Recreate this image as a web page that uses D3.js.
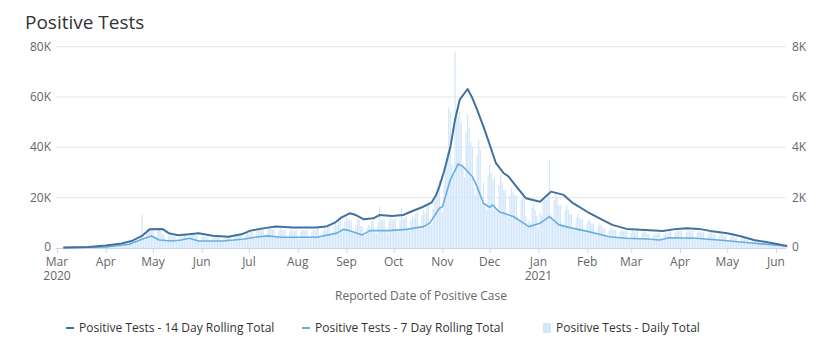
<!DOCTYPE html>
<html>
<head>
<meta charset="utf-8">
<script src="https://cdn.jsdelivr.net/npm/d3@7"></script>
<style>
  body { margin: 0; background: #fff; }
  svg { font-family: 'Open Sans', sans-serif; }
</style>
</head>
<body>
<svg id="chart" width="829" height="361"></svg>
<script>
// 14 day rolling total (left axis)
const rolling14 = [
  ['2020-03-05', 200], ['2020-03-21', 400], ['2020-04-01', 1000], ['2020-04-11', 1800],
  ['2020-04-18', 2900], ['2020-04-24', 4800], ['2020-04-29', 7500], ['2020-05-07', 7600],
  ['2020-05-11', 5900], ['2020-05-17', 5100], ['2020-05-24', 5500], ['2020-05-30', 5900],
  ['2020-06-08', 4900], ['2020-06-18', 4500], ['2020-06-27', 5600], ['2020-07-02', 6900],
  ['2020-07-10', 7800], ['2020-07-18', 8500], ['2020-07-29', 8100], ['2020-08-13', 8100],
  ['2020-08-19', 8500], ['2020-08-25', 10200], ['2020-08-29', 12200], ['2020-09-03', 13800],
  ['2020-09-07', 13100], ['2020-09-12', 11400], ['2020-09-18', 11800], ['2020-09-22', 13100],
  ['2020-09-30', 12700], ['2020-10-07', 13100], ['2020-10-13', 14700], ['2020-10-19', 16200],
  ['2020-10-25', 18000], ['2020-10-28', 21100], ['2020-10-30', 24400], ['2020-11-02', 30400],
  ['2020-11-06', 40000], ['2020-11-09', 51000], ['2020-11-12', 59000], ['2020-11-17', 63200],
  ['2020-11-20', 59600], ['2020-11-23', 55000], ['2020-11-27', 48300], ['2020-11-30', 43000],
  ['2020-12-05', 33700], ['2020-12-10', 29700], ['2020-12-13', 28400], ['2020-12-18', 24400],
  ['2020-12-24', 19800], ['2021-01-02', 18400], ['2021-01-09', 22400], ['2021-01-17', 21100],
  ['2021-01-23', 17800], ['2021-02-01', 14400], ['2021-02-11', 11100], ['2021-02-17', 9200],
  ['2021-02-26', 7600], ['2021-03-10', 7200], ['2021-03-21', 6800], ['2021-03-30', 7600],
  ['2021-04-05', 7800], ['2021-04-13', 7600], ['2021-04-20', 6800], ['2021-05-01', 5900],
  ['2021-05-09', 4800], ['2021-05-18', 3200], ['2021-05-30', 1900], ['2021-06-08', 800]
];

// 7 day rolling total (left axis)
const rolling7 = [
  ['2020-03-05', 100], ['2020-04-01', 400], ['2020-04-16', 1500], ['2020-04-24', 3500],
  ['2020-04-30', 4800], ['2020-05-05', 3200], ['2020-05-13', 2800], ['2020-05-19', 3200],
  ['2020-05-24', 3900], ['2020-05-30', 2800], ['2020-06-14', 2800], ['2020-06-27', 3500],
  ['2020-07-01', 3900], ['2020-07-05', 4300], ['2020-07-12', 4800], ['2020-07-22', 4300],
  ['2020-08-13', 4300], ['2020-08-26', 5900], ['2020-08-30', 7400], ['2020-09-03', 6900],
  ['2020-09-11', 5200], ['2020-09-16', 6900], ['2020-09-28', 6900], ['2020-10-09', 7400],
  ['2020-10-20', 8500], ['2020-10-24', 10000], ['2020-10-30', 15800], ['2020-11-01', 16400],
  ['2020-11-06', 27100], ['2020-11-11', 33400], ['2020-11-14', 32400], ['2020-11-20', 28400],
  ['2020-11-23', 24400], ['2020-11-27', 17800], ['2020-12-01', 16200], ['2020-12-03', 17100],
  ['2020-12-07', 14400], ['2020-12-16', 12500], ['2020-12-26', 8500], ['2021-01-02', 9800],
  ['2021-01-08', 12500], ['2021-01-14', 9200], ['2021-01-23', 7800], ['2021-02-02', 6500],
  ['2021-02-15', 4500], ['2021-02-26', 3900], ['2021-03-11', 3600], ['2021-03-19', 3200],
  ['2021-03-25', 4100], ['2021-04-11', 3900], ['2021-05-01', 2900], ['2021-05-18', 1900],
  ['2021-05-31', 1200], ['2021-06-08', 800]
];

// daily totals (right axis), one per day from 2020-03-05, a row per week
const dailyStart = '2020-03-05';
const daily = [
  0, 2, 3, 5, 8, 10, 14,
  18, 22, 15, 14, 30, 38, 42,
  48, 55, 35, 30, 60, 70, 66,
  85, 95, 60, 55, 90, 105, 98,
  110, 120, 75, 68, 115, 130, 125,
  140, 150, 95, 90, 150, 170, 160,
  210, 230, 150, 140, 250, 280, 300,
  520, 1320, 380, 330, 560, 640, 700,
  760, 820, 480, 420, 700, 790, 680,
  560, 520, 330, 290, 470, 520, 480,
  470, 450, 300, 260, 420, 460, 440,
  560, 590, 380, 330, 540, 600, 560,
  500, 480, 310, 280, 440, 490, 460,
  450, 460, 290, 250, 420, 470, 440,
  440, 450, 300, 260, 410, 460, 430,
  470, 480, 300, 270, 440, 490, 470,
  560, 580, 360, 320, 530, 600, 560,
  700, 640, 430, 370, 660, 760, 720,
  780, 800, 480, 420, 720, 820, 760,
  740, 760, 460, 400, 690, 790, 730,
  700, 720, 430, 380, 660, 750, 690,
  690, 710, 430, 370, 650, 740, 690,
  700, 710, 420, 370, 650, 730, 700,
  740, 760, 460, 400, 690, 790, 730,
  900, 950, 560, 490, 850, 980, 920,
  1200, 1250, 740, 650, 1100, 1300, 1180,
  1080, 1100, 650, 560, 900, 1150, 1100,
  860, 880, 520, 460, 800, 920, 860,
  1080, 1120, 660, 580, 1000, 1650, 1100,
  1100, 1150, 680, 600, 1050, 1200, 1120,
  1120, 1180, 700, 620, 1080, 1600, 1150,
  1200, 1250, 730, 650, 1130, 1300, 1200,
  1380, 1420, 840, 740, 1300, 1500, 1380,
  1650, 1700, 1000, 900, 1550, 1850, 2000,
  2500, 2700, 1600, 1400, 2500, 3200, 3800,
  5600, 5400, 3300, 2900, 7800, 5500, 5200,
  5400, 5000, 3200, 2800, 4600, 5300, 4800,
  4200, 4000, 2400, 2100, 3700, 4300, 3900,
  1800, 2600, 1700, 1500, 2900, 3300, 3000,
  2700, 2800, 1600, 1400, 2500, 2900, 2600,
  2300, 2300, 1300, 1200, 2100, 2400, 2200,
  2100, 2100, 1250, 1100, 1900, 2200, 2000,
  1300, 900, 1100, 1000, 1600, 1800, 1500,
  1300, 800, 1400, 1300, 1900, 2100, 1900,
  2200, 3500, 1300, 1100, 1900, 2200, 2000,
  1700, 1700, 1000, 900, 1500, 1700, 1500,
  1350, 1350, 800, 700, 1200, 1350, 1200,
  1150, 1150, 680, 600, 1000, 1150, 1050,
  950, 970, 570, 500, 860, 980, 900,
  780, 800, 470, 420, 700, 800, 740,
  720, 730, 430, 380, 650, 740, 680,
  670, 680, 400, 360, 600, 690, 630,
  660, 670, 390, 350, 590, 670, 620,
  560, 570, 340, 300, 510, 580, 540,
  600, 610, 360, 320, 540, 620, 570,
  690, 710, 420, 370, 630, 720, 660,
  680, 700, 410, 360, 620, 710, 650,
  670, 690, 400, 350, 600, 690, 640,
  620, 640, 370, 330, 560, 640, 590,
  550, 560, 330, 290, 490, 560, 520,
  490, 500, 290, 260, 440, 500, 460,
  420, 430, 250, 220, 380, 430, 400,
  330, 340, 200, 180, 300, 340, 310,
  260, 270, 160, 140, 240, 270, 250,
  200, 210, 120, 110, 180, 210, 190,
  140, 140, 80, 70, 120, 130
];

const leftTicks = [0, 20000, 40000, 60000, 80000];
const rightTicks = [0, 2000, 4000, 6000, 8000];
const legendItems = [
  'Positive Tests - 14 Day Rolling Total',
  'Positive Tests - 7 Day Rolling Total',
  'Positive Tests - Daily Total'
];

const colors = { c14: '#41729f', c7: '#6aaddf', daily: '#d3e7fb' };

const svg = d3.select('#chart');
const parse = d3.utcParse('%Y-%m-%d');

const plot = { left: 56, right: 786, top: 46.7, bottom: 248 };

const x = d3.scaleUtc()
  .domain([parse('2020-03-01'), parse('2021-06-01')])
  .range([57, 776]);
const yL = d3.scaleLinear().domain([0, 80000]).range([plot.bottom, plot.top]);
const yR = d3.scaleLinear().domain([0, 8000]).range([plot.bottom, plot.top]);

// title
svg.append('text')
  .attr('x', 25).attr('y', 29)
  .attr('font-size', 19).attr('fill', '#333')
  .text('Positive Tests');

// gridlines
svg.append('g').selectAll('line')
  .data(leftTicks.slice(1))
  .join('line')
  .attr('x1', plot.left).attr('x2', plot.right)
  .attr('y1', d => yL(d)).attr('y2', d => yL(d))
  .attr('stroke', '#e6e6e6').attr('stroke-width', 1);

const fmtK = d => d === 0 ? '0' : (d / 1000) + 'K';

svg.append('g').selectAll('text')
  .data(leftTicks)
  .join('text')
  .attr('x', 51).attr('y', d => yL(d) + (d === 0 ? 3 : 4))
  .attr('text-anchor', 'end')
  .attr('font-size', 12).attr('fill', '#666')
  .text(fmtK);

svg.append('g').selectAll('text')
  .data(rightTicks)
  .join('text')
  .attr('x', 792).attr('y', d => yR(d) + (d === 0 ? 3 : 4))
  .attr('font-size', 12).attr('fill', '#666')
  .text(fmtK);

// daily bars
const start = parse(dailyStart);
const dayW = x(d3.utcDay.offset(start, 1)) - x(start);
svg.append('g').selectAll('rect')
  .data(daily)
  .join('rect')
  .attr('x', (d, i) => x(d3.utcDay.offset(start, i)) - dayW * 0.4)
  .attr('width', dayW * 0.8)
  .attr('y', d => yR(d))
  .attr('height', d => plot.bottom - yR(d))
  .attr('fill', colors.daily);

// x axis line and ticks
svg.append('line')
  .attr('x1', plot.left).attr('x2', plot.right)
  .attr('y1', plot.bottom + 0.5).attr('y2', plot.bottom + 0.5)
  .attr('stroke', '#ccd6eb');

const months = d3.utcMonth.range(parse('2020-03-01'), parse('2021-06-02'));
const xg = svg.append('g');
xg.selectAll('line')
  .data(months)
  .join('line')
  .attr('x1', d => x(d) + 0.5).attr('x2', d => x(d) + 0.5)
  .attr('y1', plot.bottom).attr('y2', plot.bottom + 5)
  .attr('stroke', '#ccd6eb');

// month labels, with the year on a second line at Mar 2020 and Jan 2021
const monthLabels = xg.selectAll('text.m')
  .data(months)
  .join('text')
  .attr('class', 'm')
  .attr('x', d => x(d)).attr('y', 266)
  .attr('text-anchor', 'middle')
  .attr('font-size', 12).attr('fill', '#666');
monthLabels.append('tspan')
  .attr('x', d => x(d))
  .text(d3.utcFormat('%b'));
monthLabels.filter(d => d.getUTCMonth() === 0 || +d === +months[0])
  .append('tspan')
  .attr('x', d => x(d)).attr('dy', 14)
  .text(d3.utcFormat('%Y'));

svg.append('text')
  .attr('x', 421).attr('y', 300)
  .attr('text-anchor', 'middle')
  .attr('font-size', 12).attr('fill', '#666')
  .text('Reported Date of Positive Case');

// lines
const line = d3.line()
  .x(d => x(parse(d[0])))
  .y(d => yL(d[1]));

svg.append('path')
  .datum(rolling7)
  .attr('d', line)
  .attr('fill', 'none')
  .attr('stroke', colors.c7)
  .attr('stroke-width', 1.6)
  .attr('stroke-linejoin', 'round');

svg.append('path')
  .datum(rolling14)
  .attr('d', line)
  .attr('fill', 'none')
  .attr('stroke', colors.c14)
  .attr('stroke-width', 2)
  .attr('stroke-linejoin', 'round');

// legend
const legendX = [66, 302, 543];
const lg = svg.append('g');
legendItems.forEach((name, i) => {
  const g = lg.append('g').attr('transform', `translate(${legendX[i]},328)`);
  if (i < 2) {
    g.append('line')
      .attr('x1', 0).attr('x2', 8).attr('y1', 0).attr('y2', 0)
      .attr('stroke', i === 0 ? colors.c14 : colors.c7)
      .attr('stroke-width', 2);
  } else {
    g.append('rect')
      .attr('x', 0).attr('y', -5).attr('width', 8).attr('height', 10)
      .attr('fill', colors.daily);
  }
  g.append('text')
    .attr('x', 13).attr('y', 4)
    .attr('font-size', 12).attr('fill', '#333')
    .text(name);
});
</script>
</body>
</html>
